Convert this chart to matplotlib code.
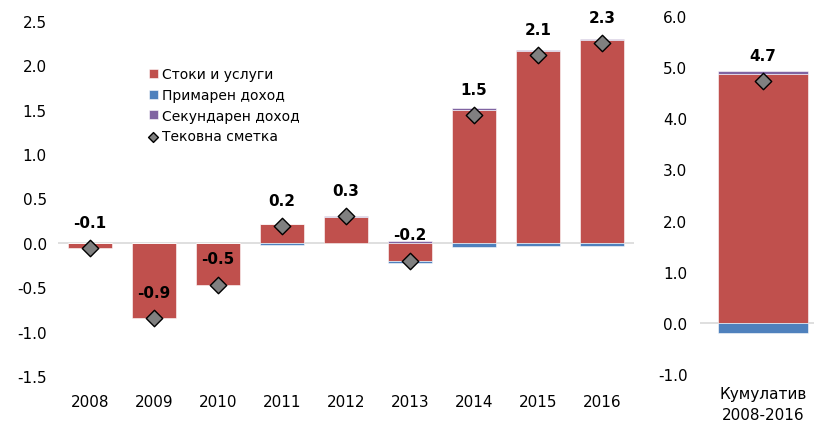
import numpy as np
import matplotlib.pyplot as plt

# data (% of GDP)
years = ['2008', '2009', '2010', '2011', '2012', '2013', '2014', '2015', '2016']
goods_services = [-0.06, -0.85, -0.48, 0.21, 0.29, -0.20, 1.50, 2.16, 2.29]
primary_income = [0.00, 0.00, 0.00, -0.02, 0.00, -0.03, -0.05, -0.04, -0.03]
secondary_income = [0.00, 0.00, 0.00, 0.00, 0.01, 0.02, 0.02, 0.01, 0.01]
current_account = [-0.06, -0.85, -0.47, 0.19, 0.30, -0.20, 1.44, 2.12, 2.25]
ca_labels = ['-0.1', '-0.9', '-0.5', '0.2', '0.3', '-0.2', '1.5', '2.1', '2.3']

cum_category = ['Кумулатив\n2008-2016']
cum_goods = [4.86]
cum_primary = [-0.20]
cum_secondary = [0.06]
cum_ca = [4.73]
cum_label = ['4.7']

legend_names = ['Стоки и услуги', 'Примарен доход', 'Секундарен доход', 'Тековна сметка']

c_red = '#C0504D'
c_blue = '#4F81BD'
c_purple = '#8064A2'
c_grey = '#808080'

plt.rcParams['font.family'] = ['DejaVu Sans']

fig = plt.figure(figsize=(8.14, 4.27), dpi=100)
ax = fig.add_axes([58 / 814, 50 / 427, 576 / 814, 355 / 427])
ax2 = fig.add_axes([700 / 814, 52 / 427, 126 / 814, 358 / 427])


def stacked(a, x, g, p, s, width):
    g = np.array(g)
    p = np.array(p)
    s = np.array(s)
    # positives stack up, negatives stack down
    pos_base = np.zeros(len(g))
    neg_base = np.zeros(len(g))
    handles = []
    for vals, col in [(g, c_red), (p, c_blue), (s, c_purple)]:
        bottom = np.where(vals >= 0, pos_base, neg_base)
        h = a.bar(x, vals, width, bottom=bottom, color=col, edgecolor='white',
                  linewidth=0.4, zorder=2)
        handles.append(h)
        pos_base = pos_base + np.where(vals >= 0, vals, 0)
        neg_base = neg_base + np.where(vals < 0, vals, 0)
    return handles


x = np.arange(len(years))
handles = stacked(ax, x, goods_services, primary_income, secondary_income, 0.7)
dm = ax.scatter(x, current_account, marker='D', s=70, color=c_grey,
                edgecolor='black', linewidth=1.0, zorder=4)
for xi, yi, t in zip(x, current_account, ca_labels):
    ax.annotate(t, (xi, yi), xytext=(0, 18.5), textcoords='offset points',
                ha='center', va='center', fontsize=11, fontweight='bold')

ax.axhline(0, color='#D9D9D9', linewidth=1.2, zorder=1)
ax.set_xlim(-0.5, len(years) - 0.5)
ax.set_ylim(-1.5, 2.5)
ax.set_yticks(np.arange(-1.5, 2.51, 0.5))
ax.set_yticklabels([f'{v:.1f}' for v in np.arange(-1.5, 2.51, 0.5)])
ax.set_xticks(x)
ax.set_xticklabels(years)
ax.tick_params(length=0, labelsize=11, pad=8)
ax.tick_params(axis='x', pad=13)
for sp in ax.spines.values():
    sp.set_visible(False)

ax.legend(handles + [dm], legend_names, loc='upper left',
          bbox_to_anchor=(0.148, 0.885), frameon=False, fontsize=10,
          handlelength=0.65, handleheight=0.65, handletextpad=0.3,
          labelspacing=0.48, borderaxespad=0, markerscale=0.6)

x2 = np.arange(len(cum_category))
stacked(ax2, x2, cum_goods, cum_primary, cum_secondary, 0.714)
ax2.scatter(x2, cum_ca, marker='D', s=70, color=c_grey,
            edgecolor='black', linewidth=1.0, zorder=4)
for xi, yi, t in zip(x2, cum_ca, cum_label):
    ax2.annotate(t, (xi, yi), xytext=(0, 18.5), textcoords='offset points',
                 ha='center', va='center', fontsize=11, fontweight='bold')
ax2.axhline(0, color='#D9D9D9', linewidth=1.2, zorder=1)
ax2.set_xlim(-0.5, 0.5)
ax2.set_ylim(-1.0, 6.0)
ax2.set_yticks(np.arange(-1, 6.1, 1))
ax2.set_yticklabels([f'{v:.1f}' for v in np.arange(-1, 6.1, 1)])
ax2.set_xticks(x2)
ax2.set_xticklabels(cum_category, linespacing=1.45)
ax2.tick_params(length=0, labelsize=11, pad=9)
ax2.tick_params(axis='x', pad=9)
for sp in ax2.spines.values():
    sp.set_visible(False)

fig.savefig('out.png', dpi=100)
